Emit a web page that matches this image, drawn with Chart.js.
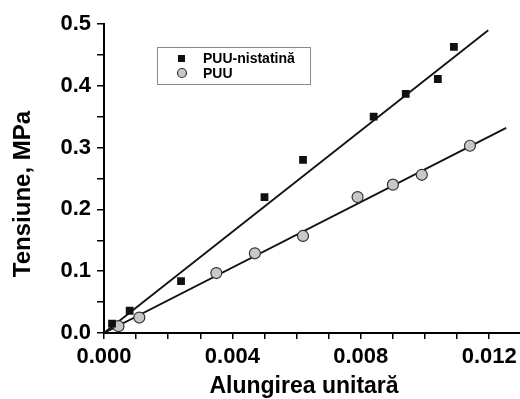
<!DOCTYPE html>
<html>
<head>
<meta charset="utf-8">
<script src="https://cdn.jsdelivr.net/npm/chart.js@4.4.0/dist/chart.umd.min.js"></script>
<style>
  html, body { margin: 0; padding: 0; background: #fff; overflow: hidden; }
  /* canvas a bit wider than the window: Chart.js keeps a few px right padding, this pushes the axis end to the window edge */
  #stressChart { display: block; }
</style>
</head>
<body>
<canvas id="stressChart" width="528" height="399"></canvas>
<script>
// measured points
const nistatinaX = [0.00025, 0.0008, 0.0024, 0.0050, 0.0062, 0.0084, 0.0094, 0.0104, 0.0109];
const nistatinaY = [0.015, 0.036, 0.084, 0.220, 0.280, 0.350, 0.387, 0.411, 0.463];
const puuX = [0.00045, 0.0011, 0.0035, 0.0047, 0.0062, 0.0079, 0.0090, 0.0099, 0.0114];
const puuY = [0.011, 0.025, 0.097, 0.129, 0.157, 0.220, 0.240, 0.256, 0.303];

// fitted lines (end points)
const fitNistatinaX = [0, 0.01197];
const fitNistatinaY = [0, 0.490];
const fitPuuX = [0, 0.01253];
const fitPuuY = [0, 0.332];

const xTickLabels = ['0.000', '0.004', '0.008', '0.012'];
const yTickLabels = ['0.0', '0.1', '0.2', '0.3', '0.4', '0.5'];
const xTitle = 'Alungirea unitară';
const yTitle = 'Tensiune, MPa';

function toPoints(xs, ys) {
    return xs.map((x, i) => ({ x: x, y: ys[i] }));
}

const fontFamily = '"Liberation Sans", Arial, sans-serif';

// legend box inside the plot area + axis titles (slightly off-centre in the original)
const extras = {
    id: 'extras',
    afterDraw(chart) {
        const ctx = chart.ctx;
        const area = chart.chartArea;
        const left = area.left + 53, top = area.top + 23;
        const w = 153, h = 37;
        ctx.save();
        ctx.strokeStyle = '#888';
        ctx.lineWidth = 1;
        ctx.strokeRect(left + 0.5, top + 0.5, w, h);

        ctx.fillStyle = '#111';
        ctx.fillRect(left + 21, top + 8, 7, 7);

        ctx.beginPath();
        ctx.arc(left + 25, top + 26, 4.5, 0, Math.PI * 2);
        ctx.fillStyle = '#c8c8c8';
        ctx.fill();
        ctx.strokeStyle = '#333';
        ctx.lineWidth = 1.2;
        ctx.stroke();

        ctx.fillStyle = '#000';
        ctx.font = 'bold 14px ' + fontFamily;
        ctx.textBaseline = 'middle';
        ctx.fillText('PUU-nistatină', left + 46, top + 12);
        ctx.fillText('PUU', left + 46, top + 27);

        ctx.font = 'bold 23px ' + fontFamily;
        ctx.textAlign = 'center';
        ctx.textBaseline = 'alphabetic';
        ctx.fillText(xTitle, area.left + 200, 393);

        ctx.translate(30, area.top + 170);
        ctx.rotate(-Math.PI / 2);
        ctx.font = 'bold 24px ' + fontFamily;
        ctx.fillText(yTitle, 0, 0);
        ctx.restore();
    }
};

const tickFont = { family: fontFamily, size: 22, weight: 'bold' };

const ctx = document.getElementById('stressChart').getContext('2d');
new Chart(ctx, {
    data: {
        datasets: [{
            type: 'line',
            label: 'fit PUU-nistatină',
            data: toPoints(fitNistatinaX, fitNistatinaY),
            borderColor: '#111',
            borderWidth: 1.8,
            pointRadius: 0,
            fill: false,
            order: 3
        }, {
            type: 'line',
            label: 'fit PUU',
            data: toPoints(fitPuuX, fitPuuY),
            borderColor: '#111',
            borderWidth: 1.8,
            pointRadius: 0,
            fill: false,
            order: 3
        }, {
            type: 'scatter',
            label: 'PUU-nistatină',
            data: toPoints(nistatinaX, nistatinaY),
            pointStyle: 'rect',
            pointRadius: 5.5,
            backgroundColor: '#111',
            borderColor: '#111',
            borderWidth: 0,
            order: 1
        }, {
            type: 'scatter',
            label: 'PUU',
            data: toPoints(puuX, puuY),
            pointStyle: 'circle',
            pointRadius: 5.5,
            backgroundColor: '#c8c8c8',
            borderColor: '#333',
            borderWidth: 1.2,
            order: 2
        }]
    },
    options: {
        responsive: false,
        animation: false,
        layout: { padding: { top: 24, right: 0, left: 0, bottom: 0 } },
        plugins: {
            legend: { display: false },
            tooltip: { enabled: false }
        },
        scales: {
            x: {
                type: 'linear',
                min: 0,
                max: 0.013,
                border: { display: true, color: '#000', width: 2 },
                grid: { drawOnChartArea: false, color: '#000', lineWidth: 1.5, tickLength: 6 },
                ticks: {
                    stepSize: 0.001,
                    autoSkip: false,
                    maxRotation: 0,
                    color: '#000',
                    font: tickFont,
                    padding: 5,
                    callback: (v) => {
                        const k = Math.round(v * 1000);
                        return k % 4 === 0 ? xTickLabels[k / 4] : '';
                    }
                },
                afterFit: (s) => { s.height = 66; }
            },
            y: {
                type: 'linear',
                min: 0,
                max: 0.5,
                border: { display: true, color: '#000', width: 2 },
                grid: { drawOnChartArea: false, color: '#000', lineWidth: 1.5, tickLength: 7 },
                ticks: {
                    stepSize: 0.05,
                    autoSkip: false,
                    color: '#000',
                    font: tickFont,
                    padding: 6,
                    callback: (v) => {
                        const k = Math.round(v * 20);
                        return k % 2 === 0 ? yTickLabels[k / 2] : '';
                    }
                },
                afterFit: (s) => { s.width = 104; }
            }
        }
    },
    plugins: [extras]
});
</script>
</body>
</html>
